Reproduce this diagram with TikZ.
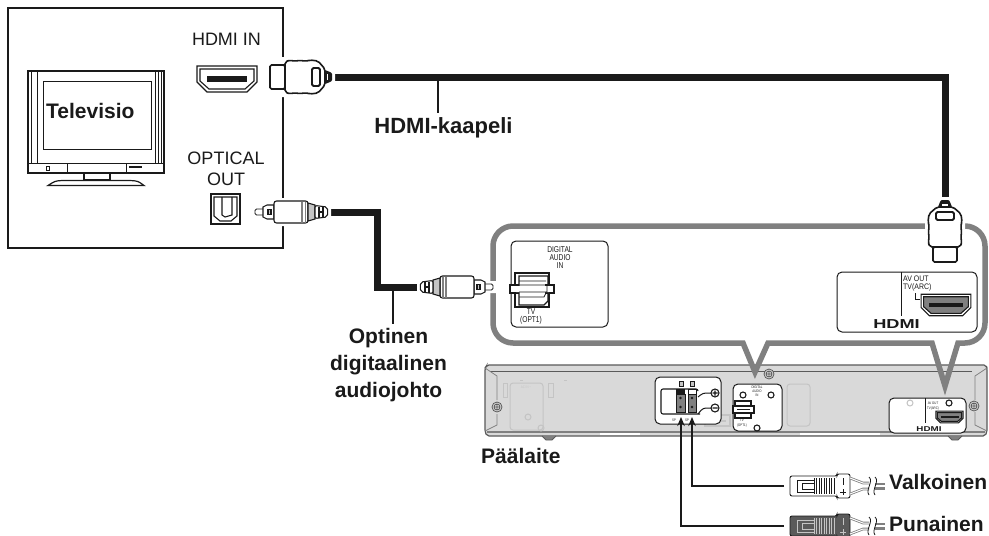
\documentclass[tikz,border=0pt]{standalone}
\usepackage{fontspec}
\setmainfont{Liberation Sans}
\usetikzlibrary{arrows.meta}
\definecolor{calloutgray}{HTML}{808080}
\definecolor{unitgray}{HTML}{D9D9D9}
\definecolor{ghost}{HTML}{C4C4C4}
\definecolor{unitline}{HTML}{5A5A5A}
\definecolor{ink}{HTML}{1A1A1A}
\tikzset{
  x=1pt,y=-1pt,
  cable/.style={draw=ink,line width=7pt,line join=miter},
  leader/.style={draw=ink,line width=2pt},
  wire/.style={draw=ink,line width=2.4pt,-{Stealth[length=9pt,width=7.5pt]}},
  calloutline/.style={draw=calloutgray,line width=5.5pt,line join=miter},
  panel/.style={draw=ink,fill=white,line width=1pt,rounded corners=5pt},
  thinl/.style={draw=ink,line width=.8pt},
  medl/.style={draw=ink,line width=1.1pt},
  ghostl/.style={draw=ghost,line width=1pt},
  lab/.style={font=\fontsize{18}{20}\selectfont,anchor=base,inner sep=0pt,text=ink},
  blab/.style={font=\bfseries\fontsize{21}{23}\selectfont,anchor=base,inner sep=0pt,text=ink},
  tiny/.style={font=\fontsize{8.5}{8.5}\selectfont,anchor=base,inner sep=0pt,text=ink,xscale=.78},
  tinier/.style={font=\fontsize{3.6}{3.6}\selectfont,anchor=base,inner sep=0pt,text=ink,xscale=.8},
  logo/.style={font=\bfseries\fontsize{#1}{#1}\selectfont,anchor=base,inner sep=0pt,text=ink,xscale=1.4},
  pics/hdmiport/.style={code={
    \path[medl,fill=white] (-30,-13) -- (30,-13) -- (30,3) -- (20,13) -- (-20,13) -- (-30,3) -- cycle;
    \path[medl,fill=#1] (-27,-10) -- (27,-10) -- (27,2) -- (18,10) -- (-18,10) -- (-27,2) -- cycle;
    \fill[ink] (-20,-3) rectangle (20,3);
  }},
  pics/hdmiplug/.style={code={
    \path[draw=white,line width=6pt,fill=white] (0,-12) -- (15,-12) -- (15,-17) -- (50,-17) -- (56,-9) -- (62,-6) -- (62,6) -- (56,9) -- (50,17) -- (15,17) -- (15,12) -- (0,12) -- cycle;
    \path[draw=ink,line width=1.6pt,fill=white,rounded corners=1.5pt] (0,-12) -- (15,-12) -- (15,12) -- (0,12) -- cycle;
    \path[draw=ink,line width=1.6pt,fill=white,rounded corners=2pt] (15,-15) -- (20,-17) -- (25,-15.5) -- (30,-17) -- (35,-15.5) -- (40,-17) -- (48,-16) -- (55,-8) -- (55,8) -- (48,16) -- (40,17) -- (35,15.5) -- (30,17) -- (25,15.5) -- (20,17) -- (15,15) -- cycle;
    \path[draw=ink,line width=1.8pt,rounded corners=1.5pt] (42,-9) rectangle (50,9);
    \fill[ink,rounded corners=1pt] (55,-7) -- (60,-5) -- (62,-4) -- (62,4) -- (60,5) -- (55,7) -- cycle;
    \fill[white] (56.5,-3) rectangle (58,3);
  }},
  pics/optplug/.style={code={
    \path[draw=white,line width=6pt,fill=white] (0,-3) -- (8,-3) -- (19,-7) -- (19,-11) -- (53,-11) -- (60,-7) -- (73,-6) -- (73,6) -- (60,7) -- (53,11) -- (19,11) -- (19,7) -- (8,3) -- (0,3) -- cycle;
    \path[thinl,fill=white,rounded corners=1.5pt] (0,-3) rectangle (10,3);
    \path[medl,fill=white] (8,-5) -- (12,-7) -- (19,-7) -- (19,7) -- (12,7) -- (8,5) -- cycle;
    \path[medl,fill=ghost] (13,-2.5) rectangle (16,2.5);
    \path[medl,fill=white,rounded corners=2.5pt] (19,-11) rectangle (53,11);
    \fill[calloutgray] (46,-10.5) rectangle (48,10.5);
    \fill[calloutgray] (49.5,-10.5) rectangle (51,10.5);
    \path[medl,fill=ghost] (53,-9) -- (60,-7) -- (60,7) -- (53,9) -- cycle;
    \path[medl,fill=white,rounded corners=2pt] (60,-6.5) -- (72,-5) -- (73,0) -- (72,5) -- (60,6.5) -- cycle;
    \fill[ink] (63,-5.5) rectangle (65,5.5);
    \fill[ink] (67,-5) rectangle (69,5);
    \fill[ink] (63,-1) rectangle (69,1);
  }},
  pics/spkplug/.style n args={2}{code={
    \path[draw=ink,line width=.9pt,fill=#1,rounded corners=2pt] (0,-10) -- (47,-10) -- (47,-12) -- (60,-12) -- (60,12) -- (47,12) -- (47,10) -- (0,10) -- cycle;
    \path[draw=#2,line width=.8pt] (24,-6) -- (7,-6) -- (7,6) -- (24,6);
    \path[draw=#2,line width=.8pt] (24,-3) -- (12,-3) -- (12,3) -- (24,3);
    \foreach \r in {24,26.5,29,31.5,34,36.5,39,41.5,44}{
      \path[draw=#2,line width=.8pt] (\r,-8) -- (\r,8);
    }
    \path[draw=#2,line width=.8pt] (53,-8) -- (53,-1) (50,6) -- (56,6) (53,3) -- (53,9);
    \path[draw=calloutgray,line width=2.6pt] (60,-8) -- (73,-3) -- (79,-3) (60,8) -- (73,3) -- (79,3);
    \path[draw=white,line width=1pt] (60,-8) -- (73,-3) -- (79,-3) (60,8) -- (73,3) -- (79,3);
    \path[draw=calloutgray,line width=2.6pt] (85,-2.2) -- (95,-2.2) (85,2.2) -- (95,2.2);
    \path[draw=ink,line width=.8pt] (79,-9) .. controls (84,-5) and (75,4) .. (79,9) (85,-9) .. controls (90,-5) and (81,4) .. (85,9);
  }},
  pics/screw/.style={code={
    \path[draw=unitline,line width=.8pt,fill=unitgray] (0,0) circle[radius=5pt];
    \path[draw=unitline,line width=.8pt] (0,0) circle[radius=3pt] (-3,0) -- (3,0) (0,-3) -- (0,3);
  }},
}
\begin{document}
\begin{tikzpicture}
\useasboundingbox (0,0) rectangle (989,536);
\clip (0,0) rectangle (989,536);
\fill[white] (0,0) rectangle (989,536);

% ---- main unit
\path[draw=unitline,line width=1.2pt,fill=unitgray,rounded corners=2pt] (485,368) -- (487,365) -- (986,365) -- (987,368) -- (987,432) -- (985,436) -- (487,436) -- (485,432) -- cycle;
\path[draw=unitline,line width=.9pt] (490,371) -- (972,371);
\path[draw=calloutgray,line width=.8pt] (485,368) -- (497,376) -- (497,400) (497,414) -- (497,425) -- (485,431);
\path[draw=calloutgray,line width=.8pt] (987,368) -- (975,376) -- (975,400) (975,412) -- (975,425) -- (987,431);
\path[draw=calloutgray,line width=1.4pt] (487,432) -- (985,432);
\path[draw=white,line width=1.2pt] (600,434) -- (640,434) (800,434) -- (880,434);
\path[draw=unitline,line width=.8pt,fill=calloutgray] (542,436) -- (546,440) -- (552,440) -- (556,436);
\path[draw=unitline,line width=.8pt,fill=calloutgray] (948,436) -- (952,440) -- (958,440) -- (962,436);
\pic at (497,407) {screw};
\pic at (974,406) {screw};
\pic at (769,374) {screw};
% faint rear-panel marks
\path[ghostl,rounded corners=3pt] (510,383) rectangle (543,430);
\path[ghostl] (503,383) rectangle (507,397) (548,383) rectangle (553,397);
\path[ghostl] (528,417) circle[radius=3pt] (541,428) circle[radius=3pt];
\path[ghostl] (520,380) -- (523,380) (564,380) -- (567,380);
\path[ghostl,rounded corners=3pt] (787,384) rectangle (810,426);
\path[ghostl,line width=1.6pt] (705,415) rectangle (730,426);
\path[draw=ghost,line width=2pt] (709,420.5) -- (726,420.5);
\node[tinier,text=ghost] (acin) at (526,388) {AC IN \textasciitilde};

% speaker panel
\path[panel] (655,377) rectangle (721,424);
\path[medl,rounded corners=2pt] (700,414) -- (661,414) -- (661,389) -- (698,389) -- (698,391);
\path[draw=ink,line width=1pt,rounded corners=3pt] (698,397) -- (703,393) -- (711,393);
\path[draw=ink,line width=1pt,rounded corners=3pt] (698,414) -- (703,408) -- (711,408);
\path[medl] (715,393) circle[radius=4pt] (715,408) circle[radius=4pt] (712.5,393) -- (717.5,393) (715,390.5) -- (715,395.5) (712.5,408) -- (717.5,408);
\path[draw=ink,line width=.7pt,fill=calloutgray] (676,394) rectangle (685,412) (688,394) rectangle (696,412);
\fill[ink] (676,389) rectangle (685,394);
\path[draw=ink,line width=.7pt,fill=white] (688,389) rectangle (696,394);
\fill[ink] (680.5,398) circle[radius=1.3pt] (680.5,407) circle[radius=1.3pt] (692,398) circle[radius=1.3pt] (692,407) circle[radius=1.3pt];
\path[thinl,fill=ghost] (679,381) rectangle (683,386) (690,381) rectangle (694,386);
\node[tinier] (spa) at (674,421) {SP};
\node[tinier] (spb) at (687,421) {SP};

% small digital panel
\path[panel] (733,384) rectangle (782,431);
\path[medl] (743,395) circle[radius=3pt] (771,395) circle[radius=3pt];
\path[medl,fill=white] (757,428) circle[radius=3pt];
\path[medl] (735,401) rectangle (751,418);
\path[medl,fill=white] (733,406) rectangle (754,413);
\path[thinl] (737,409.5) -- (750,409.5);
\node[tinier] (dsmall) at (757,388) {DIGITAL};
\node[tinier] (dsmallb) at (757,392) {AUDIO};
\node[tinier] (dsmallc) at (757,396) {IN};
\node[tinier] (tsmall) at (742,421) {TV};
\node[tinier] (tsmallb) at (742,426) {(OPT1)};

% small HDMI panel
\path[panel] (889,398) rectangle (966,433);
\path[thinl,line width=1pt] (925,398) -- (925,423);
\path[draw=ghost,line width=1pt] (910,403) circle[radius=3pt];
\path[medl,fill=white] (949,403) circle[radius=3pt];
\pic[scale=.45] at (949.5,417) {hdmiport=calloutgray};
\node[tinier] (avs) at (933,404) {AV OUT};
\node[tinier] (avsb) at (933,409) {TV(ARC)};
\node[logo=7] (logosmall) at (929,431) {HDMI};

% ---- callout
\path[calloutline] (493,246) .. controls (493,235) and (502,226) .. (513,226) -- (965,226) .. controls (976,226) and (985,235) .. (985,246) -- (985,323) .. controls (985,334) and (976,343) .. (965,343) -- (958,343) -- (945,386) -- (932,343) -- (768,343) -- (755,372) -- (743,343) -- (513,343) .. controls (502,343) and (493,334) .. (493,323) -- cycle;

% large digital audio panel
\path[panel] (511,241) rectangle (608,327);
\node[tiny] (digA) at (560,252) {DIGITAL};
\node[tiny] (digB) at (560,260) {AUDIO};
\node[tiny] (digC) at (560,268) {IN};
\node[tiny] (tvopt) at (531,314) {TV};
\node[tiny] (tvoptb) at (531,322.5) {(OPT1)};
\path[medl,fill=white] (515,273) rectangle (549,307);
\path[medl] (519,276) -- (548,276) -- (548,301) -- (544,305) -- (519,305) -- cycle;
\path[medl,fill=white] (510,285) rectangle (518,293) (546,285) rectangle (554,293);
\fill[white] (516,286) rectangle (520,292) (545,286) rectangle (549,292);
\path[thinl] (519,281) -- (546,281) (519,285) -- (547,285) -- (547,292) -- (519,292) (519,297) -- (544,297) -- (546,293);

% large HDMI panel
\path[panel] (837,272) rectangle (977,332);
\path[thinl,line width=1pt] (901,272) -- (901,316);
\node[font=\fontsize{8}{8}\selectfont,anchor=base west,inner sep=0pt,text=ink,xscale=.87] (av) at (903,281.5) {AV OUT};
\node[font=\fontsize{8}{8}\selectfont,anchor=base west,inner sep=0pt,text=ink,xscale=.87] (avb) at (903,289.5) {TV(ARC)};
\path[thinl] (915,293) -- (915,299) -- (920,299);
\pic[scale=.83] at (946,305) {hdmiport=calloutgray};
\node[logo=13] (logobig) at (896.5,328.5) {HDMI};

% ---- TV box
\path[draw=ink,line width=2pt] (283,8) -- (8,8) -- (8,247.5) -- (283,247.5) -- cycle;
\node[lab] (hdmiin) at (226.5,45.5) {HDMI IN};
\pic at (227,79) {hdmiport=white};
\node[lab] (optA) at (226,164) {OPTICAL};
\node[lab] (optB) at (226,185) {OUT};
\path[medl] (211,194) rectangle (240,224);
\path[medl] (214,197) -- (237,197) -- (237,216) -- (231,221) -- (220,221) -- (214,216) -- cycle;
\path[medl] (222,197) -- (222,215) -- (225,217) -- (232,215) -- (232,197);
% television set
\path[draw=ink,line width=2pt,fill=white] (28,71) rectangle (164,173);
\path[draw=ink,line width=.8pt] (31,71) -- (31,163) (37,71) -- (37,163) (155,71) -- (155,163) (158,71) -- (158,163) (161,71) -- (161,163);
\path[draw=ink,line width=1.5pt] (28,163.5) -- (164,163.5);
\path[draw=ink,line width=1pt] (67,163) -- (67,173) (126,163) -- (126,173);
\path[thinl] (46,166) rectangle (49,170);
\path[draw=ink,line width=1.2pt] (129,167) -- (142,167);
\path[draw=ink,line width=1pt] (43,81) rectangle (151,149);
\path[draw=ink,line width=1.4pt,fill=white] (84,173) rectangle (110,180);
\path[draw=ink,line width=1.2pt,fill=white] (48,185.5) .. controls (55,181) .. (62,180.5) -- (130,180.5) .. controls (138,181) .. (144,185.5) -- cycle;
\node[blab,anchor=base west] (tv) at (46,118) {Televisio};

% ---- cables
\coordinate (hdmiTail) at (331,77);
\coordinate (hdmiDrop) at (945,203);
\coordinate (hdmiTap) at (438,77);
\coordinate (optTailA) at (329,212);
\coordinate (optBend) at (377,250);
\coordinate (optTailB) at (420,287);
\coordinate (optTap) at (393,287);
\draw[cable] (hdmiTail) -| (hdmiDrop);
\draw[cable] (optTailA) -| (optBend) |- (optTailB);
\pic at (270,77) {hdmiplug};
\pic[rotate=90] at (945,262) {hdmiplug};
\pic at (255,212) {optplug};
\pic[xscale=-1] at (493,287) {optplug};
\node[blab,font=\bfseries\fontsize{22}{24}\selectfont] (hdmilabel) at (443.5,133) {HDMI-kaapeli};
\draw[leader,shorten >=4pt] (hdmiTap) -- (hdmilabel.north -| hdmiTap);
\node[blab] (optlabelA) at (388.5,343) {Optinen};
\node[blab] (optlabelB) at (388.5,370) {digitaalinen};
\node[blab] (optlabelC) at (388.5,397) {audiojohto};
\draw[leader,shorten >=4pt] (optTap) -- (optlabelA.north -| optTap);
\node[blab,anchor=base west] (main) at (481,463) {Päälaite};

% ---- speaker connections
\coordinate (termWhite) at (692,417);
\coordinate (termRed) at (681,417);
\coordinate (plugWhite) at (784,486);
\coordinate (plugRed) at (784,526);
\draw[wire] (plugWhite) -| (termWhite);
\draw[wire] (plugRed) -| (termRed);
\pic at (790,486) {spkplug={white}{ink}};
\pic at (790,526) {spkplug={unitline}{ghost}};
\node[blab,anchor=base west] (white) at (889,489) {Valkoinen};
\node[blab,anchor=base west] (red) at (889,531) {Punainen};
\end{tikzpicture}
\end{document}
